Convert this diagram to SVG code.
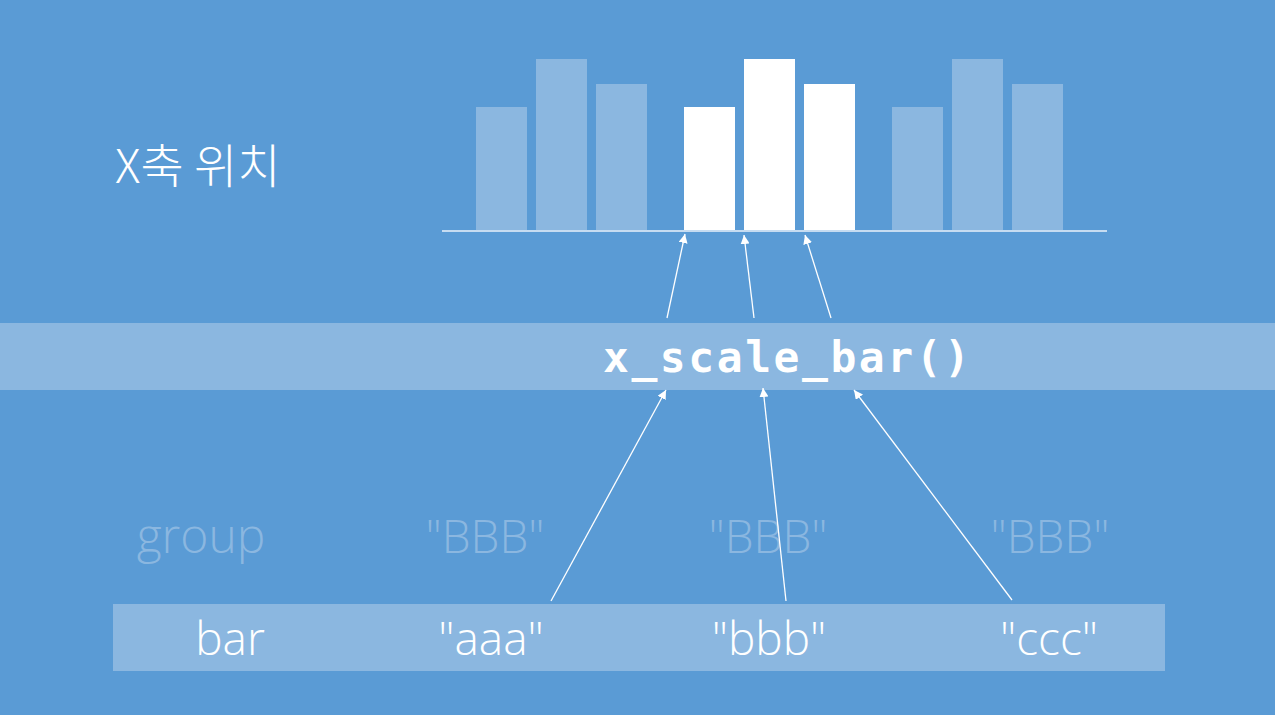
<svg xmlns="http://www.w3.org/2000/svg" width="1275" height="715" viewBox="0 0 1275 715">
<defs>
<style>
.bg{fill:#5a9bd5}
.band{fill:#8bb7e0}
.ghostbar{fill:#8bb7e0}
.bar{fill:#ffffff}
.axis{stroke:#c6dcf1;stroke-width:2}
.conn{stroke:#ffffff;stroke-width:1.3;fill:none;marker-end:url(#ah)}
.title{font-family:"Noto Sans CJK KR","Noto Sans",sans-serif;font-weight:300;font-size:47px;fill:#ffffff}
.code{font-family:"DejaVu Sans Mono","Liberation Mono",monospace;font-weight:bold;font-size:43px;fill:#ffffff}
.lbl{font-family:"Open Sans","Noto Sans",sans-serif;font-weight:300;font-size:46px;fill:#ffffff;text-anchor:middle}
.ghost{font-family:"Open Sans","Noto Sans",sans-serif;font-weight:300;font-size:46px;fill:#8bb7e0;text-anchor:middle}
</style>
<marker id="ah" viewBox="0 0 10 10" refX="10" refY="5" markerWidth="9" markerHeight="9" markerUnits="userSpaceOnUse" orient="auto">
<path d="M0,0 L10,5 L0,10 z" fill="#ffffff"/>
</marker>
</defs>
<rect class="bg" x="0" y="0" width="1275" height="715"/>
<g id="title"><text class="title" x="115" y="183">X축 위치</text></g>
<g id="chart">
<rect class="ghostbar" x="476" y="107" width="51" height="124"/>
<rect class="ghostbar" x="536" y="59" width="51" height="172"/>
<rect class="ghostbar" x="596" y="84" width="51" height="147"/>
<rect class="bar" x="684" y="107" width="51" height="124"/>
<rect class="bar" x="744" y="59" width="51" height="172"/>
<rect class="bar" x="804" y="84" width="51" height="147"/>
<rect class="ghostbar" x="892" y="107" width="51" height="124"/>
<rect class="ghostbar" x="952" y="59" width="51" height="172"/>
<rect class="ghostbar" x="1012" y="84" width="51" height="147"/>
<line class="axis" x1="442" y1="231" x2="1107" y2="231"/>
</g>
<g id="scale">
<rect class="band" x="0" y="323" width="1275" height="67"/>
<text class="code" x="603" y="372" textLength="367" lengthAdjust="spacing">x_scale_bar()</text>
</g>
<g id="groups">
<text class="ghost" x="201" y="553" style="font-size:48px">group</text>
<text class="ghost" x="485" y="553">"BBB"</text>
<text class="ghost" x="768" y="553">"BBB"</text>
<text class="ghost" x="1050" y="553">"BBB"</text>
</g>
<g id="bars">
<rect class="band" x="113" y="604" width="1052" height="67"/>
<text class="lbl" x="230" y="655">bar</text>
<text class="lbl" x="491" y="655">"aaa"</text>
<text class="lbl" x="769" y="655">"bbb"</text>
<text class="lbl" x="1049" y="655">"ccc"</text>
</g>
<g id="connectors">
<line class="conn" x1="667" y1="318" x2="685" y2="234"/>
<line class="conn" x1="754" y1="318" x2="744" y2="235"/>
<line class="conn" x1="831" y1="318" x2="805" y2="235"/>
<line class="conn" x1="551" y1="601" x2="666" y2="390"/>
<line class="conn" x1="786" y1="601" x2="763" y2="388"/>
<line class="conn" x1="1012" y1="600" x2="854" y2="390"/>
</g>
</svg>
